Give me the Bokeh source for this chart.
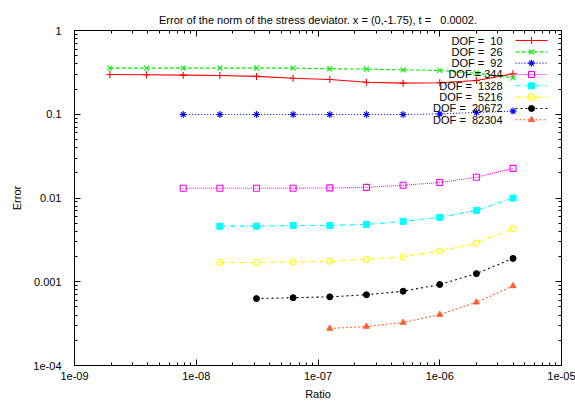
from bokeh.plotting import figure
from bokeh.models import LogAxis, FixedTicker, CustomJSTickFormatter, Range1d, LinearScale
from bokeh.embed import file_html
from bokeh.resources import INLINE
from bokeh.core.properties import value

# ---- data ----
ratio = [1.953e-9, 3.906e-9, 7.8125e-9, 1.5625e-8, 3.125e-8, 6.25e-8,
         1.25e-7, 2.5e-7, 5e-7, 1e-6, 2e-6, 4e-6]

err_10 = [0.298, 0.296, 0.293, 0.290, 0.283, 0.269, 0.260, 0.241, 0.235, 0.238, 0.253, 0.304]
err_26 = [0.355, 0.355, 0.355, 0.355, 0.355, 0.355, 0.349, 0.346, 0.339, 0.333, 0.309, 0.272]
err_92 = [0.0993, 0.0993, 0.0993, 0.0993, 0.0993, 0.0993, 0.0993, 0.101, 0.105, 0.109]
err_344 = [0.0131, 0.0131, 0.0131, 0.0131, 0.0132, 0.0134, 0.0142, 0.0153, 0.0177, 0.0226]
err_1328 = [0.00461, 0.00461, 0.0047, 0.0047, 0.00484, 0.00526, 0.00588, 0.00711, 0.00998]
err_5216 = [0.0017, 0.0017, 0.00173, 0.00176, 0.00185, 0.00199, 0.00233, 0.0029, 0.00431]
err_20672 = [0.00063, 0.000645, 0.00066, 0.0007, 0.000771, 0.000927, 0.00125, 0.0019]
err_82304 = [0.000277, 0.000292, 0.000326, 0.000405, 0.000569, 0.000891]

labels = ["DOF =\u00a0 10", "DOF =\u00a0 26", "DOF =\u00a0 92", "DOF = 344",
          "DOF =\u00a0 1328", "DOF =\u00a0 5216", "DOF =\u00a0 20672", "DOF =\u00a0 82304"]

x_ticks = [1e-9, 1e-8, 1e-7, 1e-6, 1e-5]
y_ticks = [1e-4, 1e-3, 1e-2, 1e-1, 1]

title = "Error of the norm of the stress deviator. x = (0,-1.75), t =\u00a0\u00a0 0.0002."

# ---- series description ----
series = [
    (ratio, err_10, "#ff0000", "solid", "cross", True),
    (ratio, err_26, "#00ee00", "4 2", "x", True),
    (ratio[2:], err_92, "#0000ff", "1 2", "asterisk", True),
    (ratio[2:], err_344, "#ff00ff", "1 1", "square", False),
    (ratio[3:], err_1328, "#00ffff", "5 2 1 2", "square", True),
    (ratio[3:], err_5216, "#ffff00", "5 2 1 2", "circle", False),
    (ratio[4:], err_20672, "#000000", "2 3", "circle", True),
    (ratio[6:], err_82304, "#ff6030", "2 2", "triangle", True),
]

FONT = "Liberation Sans"

p = figure(width=575, height=405, x_axis_type="log", y_axis_type="log",
           x_range=Range1d(1e-9, 1e-5), y_range=Range1d(1e-4, 1),
           output_backend="svg", toolbar_location=None,
           min_border_left=74, min_border_right=14, min_border_top=30, min_border_bottom=40,
           title=title)
p.title.text_font = FONT
p.title.text_font_size = "11px"
p.title.text_font_style = "normal"
p.title.text_color = "black"
p.title.align = "center"
p.grid.visible = False
p.outline_line_color = "black"
p.background_fill_color = "white"
p.border_fill_color = "white"

def minors(decades):
    out = []
    for d in decades[:-1]:
        for m in range(2, 10):
            out.append(d * m)
    return out

xt = FixedTicker(ticks=x_ticks, minor_ticks=minors(x_ticks))
yt = FixedTicker(ticks=y_ticks, minor_ticks=minors(y_ticks))

xfmt = CustomJSTickFormatter(code="""
var s = tick.toExponential(0).split('e');
var e = parseInt(s[1]);
var a = Math.abs(e);
return s[0] + 'e' + (e < 0 ? '-' : '+') + (a < 10 ? '0' + a : a);
""")
yfmt = CustomJSTickFormatter(code="""
if (tick >= 0.001) { return String(+tick.toPrecision(1)); }
var s = tick.toExponential(0).split('e');
var e = parseInt(s[1]);
var a = Math.abs(e);
return s[0] + 'e' + (e < 0 ? '-' : '+') + (a < 10 ? '0' + a : a);
""")
blank = CustomJSTickFormatter(code="return '';")

def style_axis(ax):
    ax.axis_line_color = "black"
    ax.major_tick_line_color = "black"
    ax.minor_tick_line_color = "black"
    ax.major_tick_in = 6
    ax.major_tick_out = 0
    ax.minor_tick_in = 3
    ax.minor_tick_out = 0
    ax.major_label_text_font = FONT
    ax.major_label_text_font_size = "11px"
    ax.major_label_text_color = "black"
    ax.axis_label_text_font = FONT
    ax.axis_label_text_font_size = "11px"
    ax.axis_label_text_font_style = "normal"
    ax.axis_label_text_color = "black"

xa = p.xaxis[0]
xa.ticker = xt
xa.formatter = xfmt
xa.axis_label = "Ratio"
style_axis(xa)
xa.major_label_standoff = 6
xa.axis_label_standoff = 5

ya = p.yaxis[0]
ya.ticker = yt
ya.formatter = yfmt
ya.axis_label = "Error"
style_axis(ya)
ya.major_label_standoff = 13
ya.axis_label_standoff = 7

top = LogAxis(ticker=xt, formatter=blank)
style_axis(top)
top.major_label_text_font_size = "0px"
top.major_label_standoff = 0
p.add_layout(top, "above")

right = LogAxis(ticker=yt, formatter=blank)
style_axis(right)
right.major_label_text_font_size = "0px"
right.major_label_standoff = 0
p.add_layout(right, "right")

def draw_marker(xs, ys, color, marker, filled, **kw):
    if marker in ("cross", "x", "asterisk"):
        p.scatter(xs, ys, marker=marker, size=7, line_color=color, line_width=1.1, **kw)
    elif filled:
        p.scatter(xs, ys, marker=marker, size=6, line_color=color, fill_color=color, **kw)
    else:
        p.scatter(xs, ys, marker=marker, size=6, line_color=color, fill_color=None,
                  line_width=1.1, **kw)

for xs, ys, color, dash, marker, filled in series:
    p.line(xs, ys, line_color=color, line_dash=dash, line_width=1.1)
    draw_marker(xs, ys, color, marker, filled)

# ---- gnuplot-style key (text on the left, sample on the right) ----
p.extra_x_ranges = {"scr": Range1d(0, 487)}
p.extra_y_ranges = {"scr": Range1d(335, 0)}
p.extra_x_scales = {"scr": LinearScale()}
p.extra_y_scales = {"scr": LinearScale()}

for i, (lab, (xs, ys, color, dash, marker, filled)) in enumerate(zip(labels, series)):
    yk = 10 + 11.33 * i
    p.line([441, 473], [yk, yk], line_color=color, line_dash=dash, line_width=1.1,
           x_range_name="scr", y_range_name="scr")
    draw_marker([457], [yk], color, marker, filled, x_range_name="scr", y_range_name="scr")
    p.text([428], [yk], text=[lab], text_align="right", text_baseline="middle",
           text_font=value(FONT), text_font_size="11px", text_color="black",
           x_range_name="scr", y_range_name="scr")

open("out.html", "w").write(file_html(p, INLINE))
